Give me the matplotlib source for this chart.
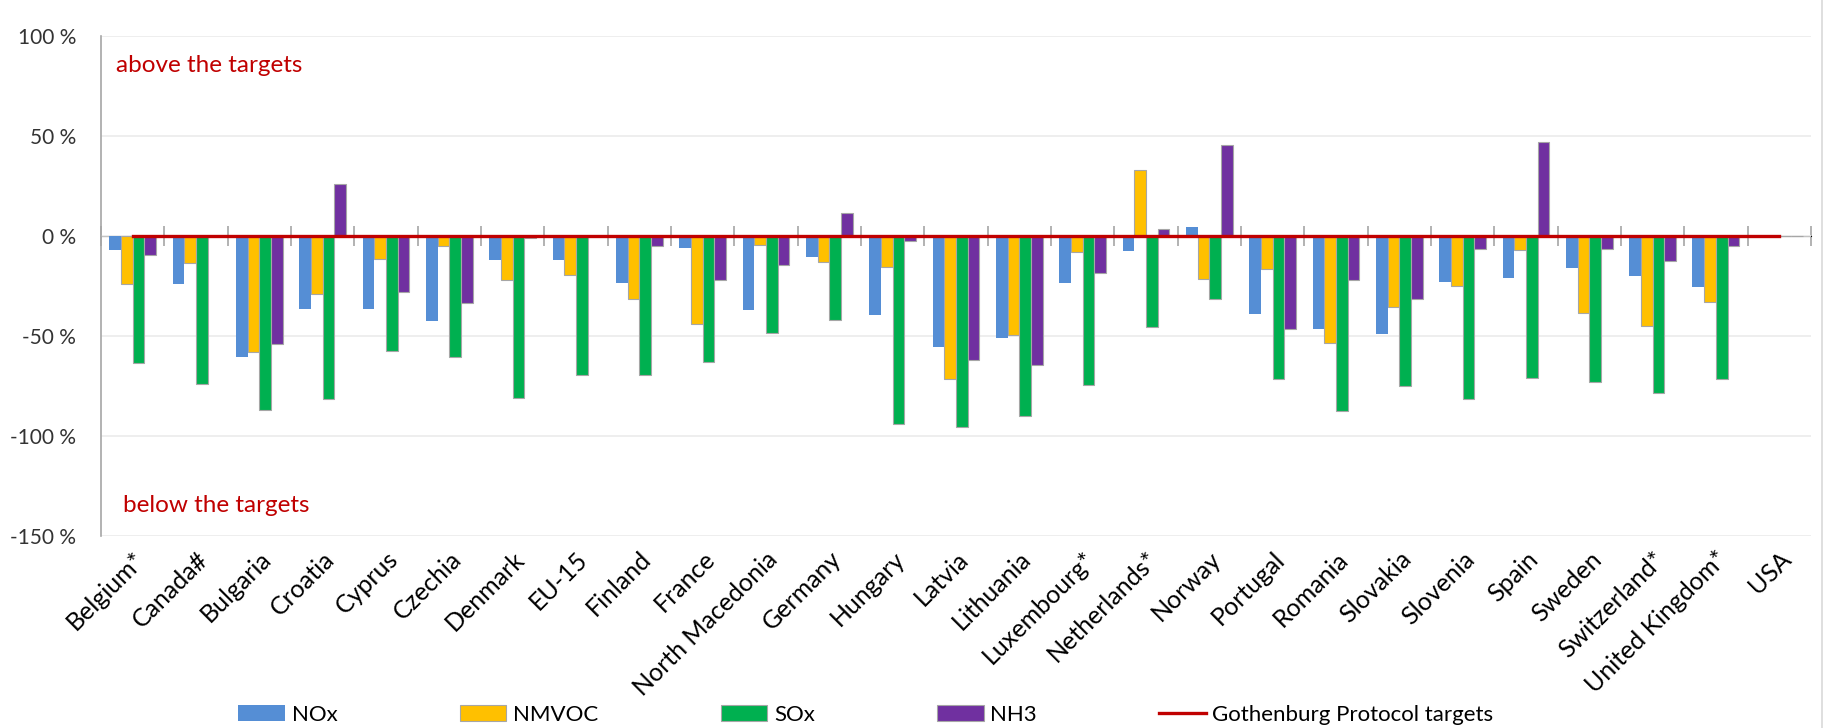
import numpy as np
import matplotlib
matplotlib.use('Agg')
import matplotlib.pyplot as plt
from matplotlib.lines import Line2D

plt.rcParams['font.family'] = ['Lato', 'DejaVu Sans']

countries = ['Belgium*', 'Canada#', 'Bulgaria', 'Croatia', 'Cyprus', 'Czechia', 'Denmark', 'EU-15',
             'Finland', 'France', 'North Macedonia', 'Germany', 'Hungary', 'Latvia', 'Lithuania',
             'Luxembourg*', 'Netherlands*', 'Norway', 'Portugal', 'Romania', 'Slovakia', 'Slovenia',
             'Spain', 'Sweden', 'Switzerland*', 'United Kingdom*', 'USA']

# % difference from the Gothenburg Protocol targets
nox = [-7, -24, -60.7, -36.7, -36.7, -42.7, -12, -12, -23.5, -6, -37.2, -10.3, -39.3, -55.3,
       -50.8, -23.5, -7.5, 4.7, -38.8, -46.5, -49, -23, -21.2, -15.8, -20.2, -25.7, 0]
nmvoc = [-24, -13.3, -57.8, -29, -11.7, -5, -22.2, -19.5, -31.5, -44, -4.7, -12.8, -15.7, -71.5,
         -49.5, -7.8, 33, -21.5, -16.5, -53.3, -35.7, -24.8, -7.2, -38.7, -45, -32.8, 0]
sox = [-63.7, -74, -87, -81.3, -57.3, -60.7, -80.8, -69.3, -69.3, -63.2, -48.5, -41.8, -94, -95.5,
       -90, -74.7, -45.7, -31.3, -71.5, -87.3, -74.8, -81.3, -71, -73, -78.7, -71.5, 0]
nh3 = [-9.7, 0, -54, 25.8, -27.8, -33.3, -1.2, 0, -4.8, -21.8, -14.7, 11.3, -2.7, -62,
       -64.7, -18.5, 3.7, 45.3, -46.5, -21.8, -31.7, -6.5, 47, -6.5, -12.5, -4.8, 0]
targets = [0, 0, 0, 0, 0, 0, 0, 0, 0, 0, 0, 0, 0, 0, 0, 0, 0, 0, 0, 0, 0, 0, 0, 0, 0, 0, 0]

series = [('NOx', nox, '#558ED5', 'none'),
          ('NMVOC', nmvoc, '#FFC000', '#A6A6A6'),
          ('SOx', sox, '#00B050', '#A6A6A6'),
          ('NH3', nh3, '#7030A0', '#A6A6A6')]

fig = plt.figure(figsize=(18.27, 7.28), dpi=100)
ax = fig.add_axes([0.0553, 0.2637, 0.9359, 0.6868])

x = np.arange(len(countries))
w = 0.185
handles = []
for i, (name, vals, col, ec) in enumerate(series):
    b = ax.bar(x + (i - 1.5) * w, vals, w, color=col, edgecolor=ec, linewidth=0.8, label=name, zorder=3)
    handles.append(b)

ln, = ax.plot(x, targets, color='#C00000', lw=2.4, label='Gothenburg Protocol targets', zorder=5)
handles.append(ln)

ax.set_xlim(-0.5, len(countries) - 0.5)
ax.set_ylim(-150, 100)
ax.set_yticks([100, 50, 0, -50, -100, -150])
ax.set_yticklabels(['100 %', '50 %', '0 %', '-50 %', '-100 %', '-150 %'])
ax.yaxis.grid(True, color='#EBEBEB', lw=1.2, zorder=0)
ax.tick_params(axis='y', length=0, labelsize=15, labelcolor='#333333', pad=18)

ax.set_xticks(x)
ax.set_xticklabels(countries, rotation=45, ha='right', rotation_mode='anchor', fontsize=18)
ax.tick_params(axis='x', length=0, pad=8)

for s in ['top', 'right', 'bottom']:
    ax.spines[s].set_visible(False)
ax.spines['left'].set_color('#A6A6A6')
ax.spines['left'].set_linewidth(1.2)

# category axis crossing at 0 with boundary ticks
sec = ax.secondary_xaxis(150 / 250)
sec.set_xticks(np.arange(len(countries) + 1) - 0.5)
sec.set_xticklabels([])
sec.tick_params(axis='x', direction='inout', length=14, color='#A6A6A6', width=1.2)
sec.spines['bottom'].set_color('#A6A6A6')
sec.spines['bottom'].set_linewidth(1.2)

ax.text(0.009, 0.942, 'above the targets', transform=ax.transAxes, color='#C00000', fontsize=17.5,
        va='center', ha='left')
ax.text(0.013, 0.062, 'below the targets', transform=ax.transAxes, color='#C00000', fontsize=17.5,
        va='center', ha='left')

fig.legend(handles=handles, labels=[h.get_label() for h in handles], loc='center',
           bbox_to_anchor=(0.474, 0.018), ncol=5, frameon=False, fontsize=16,
           columnspacing=5.5, handlelength=2.1, handleheight=0.7, handletextpad=0.3)

# chart area border on the right
fig.add_artist(Line2D([0.9975, 0.9975], [0, 1], transform=fig.transFigure, color='#D9D9D9', lw=1.2))

fig.savefig('out.png', dpi=100, facecolor='white')
